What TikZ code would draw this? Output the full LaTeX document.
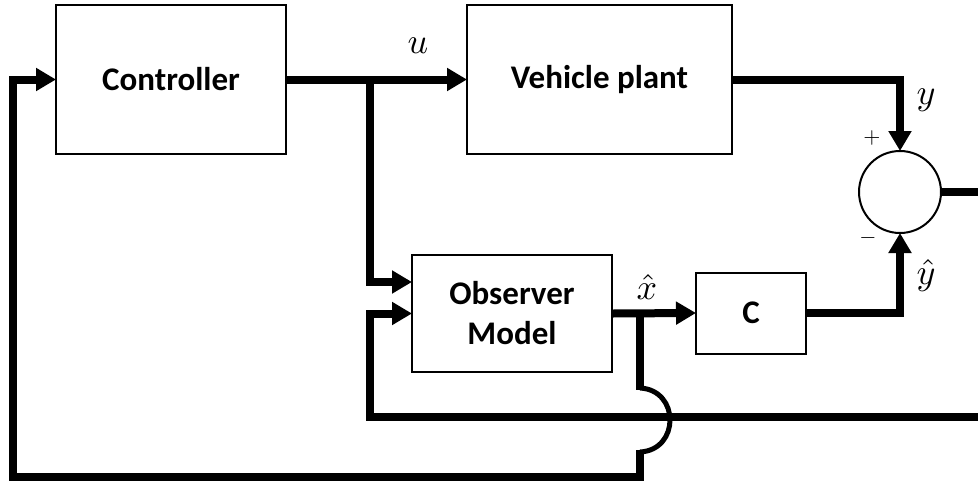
\documentclass[tikz,border=0pt]{standalone}
\usepackage{fontspec}
\newfontfamily\boxfont{Carlito}
\usetikzlibrary{arrows.meta,calc}
\begin{document}
\begin{tikzpicture}[x=1pt,y=-1pt,
  blk/.style={draw, line width=2pt, inner sep=0pt, font=\boxfont\bfseries\fontsize{33}{40}\selectfont, align=center},
  sig/.style={line width=8pt},
  arr/.style={line width=8pt, -{Triangle[length=20pt,width=22pt]}, shorten >=-1pt},
  lbl/.style={scale=3.6, inner sep=0pt},
  sgn/.style={scale=2.2, inner sep=0pt}]
\clip (0,0) rectangle (978,482);
\fill[white] (0,0) rectangle (978,482);

\node[blk, minimum width=230pt, minimum height=149pt] (ctrl) at (171,79.5) {Controller};
\node[blk, minimum width=265pt, minimum height=149pt] (plant) at (599.5,79.5) {Vehicle plant};
\node[blk, minimum width=200pt, minimum height=117pt] (obs) at (512,313.5) {Observer\\Model};
\node[blk, minimum width=110pt, minimum height=81pt] (cblk) at (751,313) {C};
\node[draw, circle, line width=2pt, minimum size=82pt, inner sep=0pt] (sum) at (900,192) {};

\coordinate (ub) at (370,79.5);
\coordinate (xb) at (640,313);
\coordinate (bumpTop) at (640,390);
\coordinate (bumpBot) at (640,450);
\coordinate (rc) at (983,192);
\coordinate (ol) at (370,417);
\coordinate (bl) at (13,477);

% u path
\draw[arr] (ctrl.east) -- (plant.west);
\draw[arr] (ub) |- ([yshift=31.5pt]obs.west);
% plant to sum
\draw[arr] (plant.east) -| (sum.north);
% observer to C
\draw[arr] (obs.east) -- (cblk.west);
% C to sum
\draw[arr] (cblk.east) -| (sum.south);
% sum output feedback to observer
\draw[arr] (sum.east) -- (rc) |- (ol) |- (obs.west);
% xhat feedback to controller with bump
\draw[line width=8pt] (xb) -- (bumpTop);
\draw[line width=5pt] ([yshift=2pt]bumpTop) .. controls (680,390) and (680,450) .. ([yshift=-2pt]bumpBot);
\draw[arr] (bumpBot) -- (640,477) -| (bl) |- (ctrl.west);

% labels
\node[lbl] at (418,46) {$u$};
\node[lbl] at (926,100) {$y$};
\node[lbl] at (926,275) {$\hat{y}$};
\node[lbl] at (647,287) {$\hat{x}$};
\node[sgn] at (872,138) {$+$};
\node[sgn] at (868,238) {$-$};
\end{tikzpicture}
\end{document}
